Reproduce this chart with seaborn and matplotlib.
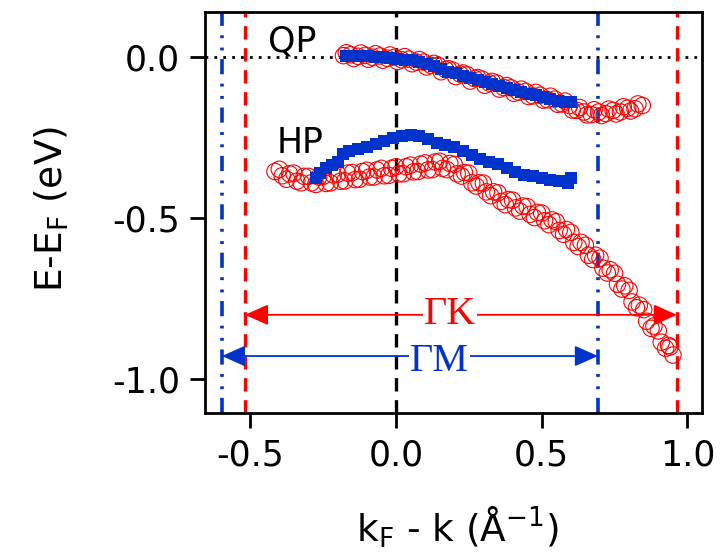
import matplotlib
matplotlib.use("Agg")
import matplotlib.pyplot as plt
import seaborn as sns
import pandas as pd

# ---- data ----
# QP band, red open circles (two rows of readings along the band)
qp_red_k = [-0.18, -0.155, -0.13, -0.105, -0.08, -0.055, -0.03, -0.005, 0.02, 0.045,
            0.07, 0.095, 0.12, 0.145, 0.17, 0.195, 0.22, 0.245, 0.27, 0.295,
            0.32, 0.345, 0.37, 0.395, 0.42, 0.445, 0.47, 0.495, 0.52, 0.545,
            0.57, 0.595, 0.62, 0.645, 0.67, 0.695, 0.72, 0.745, 0.77, 0.795,
            0.82, 0.845]
qp_red_e = [0.005, 0.008, 0.003, 0.006, 0.0, 0.004, -0.003, 0.0, -0.008, -0.006,
            -0.015, -0.015, -0.025, -0.025, -0.038, -0.04, -0.052, -0.055, -0.066, -0.068,
            -0.08, -0.08, -0.094, -0.095, -0.108, -0.106, -0.12, -0.118, -0.132, -0.13,
            -0.145, -0.15, -0.165, -0.17, -0.178, -0.17, -0.175, -0.165, -0.17, -0.158,
            -0.16, -0.15]
qp_red2_k = [-0.17, -0.145, -0.12, -0.095, -0.07, -0.045, -0.02, 0.005, 0.03, 0.055,
             0.08, 0.105, 0.13, 0.155, 0.18, 0.205, 0.23, 0.255, 0.28, 0.305,
             0.33, 0.355, 0.38, 0.405, 0.43, 0.455, 0.48, 0.505, 0.53, 0.555,
             0.58, 0.605, 0.63, 0.655, 0.68, 0.705, 0.73, 0.755, 0.78, 0.805,
             0.83]
qp_red2_e = [0.014, -0.004, 0.013, -0.006, 0.011, -0.009, 0.007, -0.013, 0.002, -0.02,
             -0.007, -0.03, -0.019, -0.045, -0.036, -0.06, -0.049, -0.074, -0.063, -0.087,
             -0.075, -0.099, -0.088, -0.112, -0.099, -0.122, -0.109, -0.133, -0.121, -0.146,
             -0.136, -0.164, -0.156, -0.179, -0.163, -0.181, -0.161, -0.176, -0.154, -0.167,
             -0.145]

# QP band, blue filled squares
qp_blue_k = [-0.17, -0.145, -0.12, -0.095, -0.07, -0.045, -0.02, 0.005, 0.03, 0.055,
             0.08, 0.105, 0.13, 0.155, 0.18, 0.205, 0.23, 0.255, 0.28, 0.305,
             0.33, 0.355, 0.38, 0.405, 0.43, 0.455, 0.48, 0.505, 0.53, 0.555,
             0.58, 0.6]
qp_blue_e = [0.005, 0.005, 0.004, 0.003, 0.002, 0.0, -0.002, -0.004, -0.007, -0.01,
             -0.015, -0.02, -0.027, -0.035, -0.045, -0.05, -0.058, -0.065, -0.072, -0.078,
             -0.084, -0.09, -0.097, -0.103, -0.108, -0.113, -0.118, -0.124, -0.13, -0.135,
             -0.14, -0.14]

# HP band, red open circles (two rows of readings along the band)
hp_red_k = [-0.415, -0.39, -0.365, -0.34, -0.315, -0.29, -0.265, -0.24, -0.215, -0.19,
            -0.165, -0.14, -0.115, -0.09, -0.065, -0.04, -0.015, 0.01, 0.035, 0.06,
            0.085, 0.11, 0.135, 0.16, 0.185, 0.21, 0.235, 0.26, 0.285, 0.31,
            0.335, 0.36, 0.385, 0.41, 0.435, 0.46, 0.485, 0.51, 0.535, 0.56,
            0.585, 0.61, 0.635, 0.66, 0.685, 0.71, 0.735, 0.76, 0.785, 0.81,
            0.835, 0.86, 0.885, 0.91, 0.935, 0.95]
hp_red_e = [-0.355, -0.368, -0.362, -0.385, -0.37, -0.39, -0.372, -0.392, -0.365, -0.385,
            -0.36, -0.38, -0.355, -0.372, -0.35, -0.368, -0.345, -0.362, -0.34, -0.356,
            -0.332, -0.35, -0.325, -0.345, -0.33, -0.362, -0.358, -0.39, -0.39, -0.418,
            -0.418, -0.448, -0.442, -0.468, -0.462, -0.488, -0.482, -0.508, -0.505, -0.538,
            -0.535, -0.575, -0.575, -0.615, -0.615, -0.655, -0.66, -0.705, -0.71, -0.76,
            -0.77, -0.82, -0.835, -0.885, -0.895, -0.925]
hp_red2_k = [-0.40, -0.375, -0.35, -0.325, -0.30, -0.275, -0.25, -0.225, -0.20, -0.175,
             -0.15, -0.125, -0.10, -0.075, -0.05, -0.025, 0.0, 0.025, 0.05, 0.075,
             0.10, 0.125, 0.15, 0.175, 0.20, 0.225, 0.25, 0.275, 0.30, 0.325,
             0.35, 0.375, 0.40, 0.425, 0.45, 0.475, 0.50, 0.525, 0.55, 0.575,
             0.60, 0.625, 0.65, 0.675, 0.70, 0.725, 0.75, 0.775, 0.80, 0.825,
             0.85, 0.875, 0.90, 0.925, 0.94]
hp_red2_e = [-0.348, -0.379, -0.36, -0.39, -0.37, -0.395, -0.37, -0.39, -0.363, -0.384,
             -0.358, -0.379, -0.351, -0.372, -0.345, -0.367, -0.34, -0.362, -0.335, -0.355,
             -0.328, -0.349, -0.323, -0.349, -0.333, -0.369, -0.36, -0.4, -0.391, -0.43,
             -0.421, -0.458, -0.444, -0.478, -0.464, -0.498, -0.484, -0.52, -0.511, -0.55,
             -0.544, -0.588, -0.584, -0.628, -0.624, -0.67, -0.671, -0.72, -0.724, -0.778,
             -0.784, -0.842, -0.85, -0.904, -0.9]

# HP band, blue filled squares
hp_blue_k = [-0.275, -0.26, -0.24, -0.22, -0.20, -0.18, -0.16, -0.13, -0.10, -0.07,
             -0.04, -0.01, 0.02, 0.05, 0.08, 0.11, 0.14, 0.17, 0.20, 0.23,
             0.26, 0.29, 0.32, 0.35, 0.38, 0.41, 0.44, 0.47, 0.50, 0.53,
             0.56, 0.59, 0.60]
hp_blue_e = [-0.375, -0.36, -0.345, -0.335, -0.325, -0.30, -0.29, -0.285, -0.28, -0.27,
             -0.26, -0.25, -0.245, -0.242, -0.245, -0.255, -0.265, -0.272, -0.28, -0.29,
             -0.305, -0.315, -0.325, -0.33, -0.345, -0.355, -0.365, -0.37, -0.375, -0.38,
             -0.385, -0.39, -0.375]

# zone boundary lines (k positions) and arrow spans
k_gm = [-0.597, 0.693]
k_gk = [-0.518, 0.964]
x_ticks = [-0.5, 0.0, 0.5, 1.0]
y_ticks = [0.0, -0.5, -1.0]

RED = "#ff0000"
BLUE = "#0033cc"

sns.set_style("ticks")
plt.rcParams["font.family"] = ["DejaVu Sans"]
plt.rcParams["text.color"] = "black"
plt.rcParams["axes.labelcolor"] = "black"

fig = plt.figure(figsize=(7.23, 5.54), dpi=100)
ax = fig.add_axes([0.2835, 0.2545, 0.6875, 0.7235])

# guide lines
ax.axhline(0, color="black", lw=2, ls=(0, (1, 2.2)), zorder=1)
ax.axvline(0, color="black", lw=2.4, ls=(0, (4.0, 2.6)), zorder=1)
for kk in k_gk:
    ax.axvline(kk, color=RED, lw=2.4, ls=(0, (4.0, 2.6)), zorder=1)
for kk in k_gm:
    ax.axvline(kk, color=BLUE, lw=2.6, ls=(0, (4.2, 2.4, 0.8, 2.6, 0.8, 2.6)), zorder=1)

red_df = pd.DataFrame({"k": qp_red_k + qp_red2_k + hp_red_k + hp_red2_k,
                       "E": qp_red_e + qp_red2_e + hp_red_e + hp_red2_e})
blue_df = pd.DataFrame({"k": qp_blue_k + hp_blue_k, "E": qp_blue_e + hp_blue_e})

sns.scatterplot(data=red_df, x="k", y="E", ax=ax, marker="o", s=140,
                facecolor="none", edgecolor=RED, linewidth=0.8, zorder=2)
sns.scatterplot(data=blue_df, x="k", y="E", ax=ax, marker="s", s=80,
                color=BLUE, edgecolor=BLUE, linewidth=0, zorder=3)

# arrows
arrow_kw = dict(arrowstyle="<|-|>,head_length=0.72,head_width=0.32",
                mutation_scale=20, shrinkA=0, shrinkB=0, lw=1.3)
ax.annotate("", xy=(k_gk[1], -0.80), xytext=(k_gk[0], -0.80),
            arrowprops=dict(color=RED, **arrow_kw), zorder=4)
ax.annotate("", xy=(k_gm[1], -0.928), xytext=(k_gm[0], -0.928),
            arrowprops=dict(color=BLUE, **arrow_kw), zorder=4)

box = dict(facecolor="white", edgecolor="none", pad=1)
serif = ["Liberation Serif", "DejaVu Serif"]
ax.text(0.185, -0.80, "ΓK", color=RED, fontsize=29, family=serif,
        ha="center", va="center", bbox=box, zorder=5)
ax.text(0.15, -0.945, "ΓM", color=BLUE, fontsize=29, family=serif,
        ha="center", va="center", bbox=box, zorder=5)
ax.text(-0.357, 0.05, "QP", fontsize=25, ha="center", va="center", zorder=5)
ax.text(-0.33, -0.265, "HP", fontsize=25, ha="center", va="center", zorder=5)

ax.set_xlim(-0.655, 1.05)
ax.set_ylim(-1.105, 0.14)
ax.set_xticks(x_ticks)
ax.set_xticklabels([f"{v:.1f}" for v in x_ticks])
ax.set_yticks(y_ticks)
ax.set_yticklabels([f"{v:.1f}" for v in y_ticks])
ax.tick_params(direction="out", length=11, width=2, labelsize=25, pad=7, colors="black")
for sp in ax.spines.values():
    sp.set_visible(True)
    sp.set_linewidth(2)
    sp.set_color("black")

ax.set_xlabel(r"k$_\mathregular{F}$ - k (Å$^\mathregular{-1}$)", fontsize=27)
ax.set_ylabel(r"E-E$_\mathregular{F}$ (eV)", fontsize=27)
ax.xaxis.set_label_coords(0.509, -0.23)
ax.yaxis.set_label_coords(-0.27, 0.51)
ax.grid(False)

fig.savefig("out.png", dpi=100)
